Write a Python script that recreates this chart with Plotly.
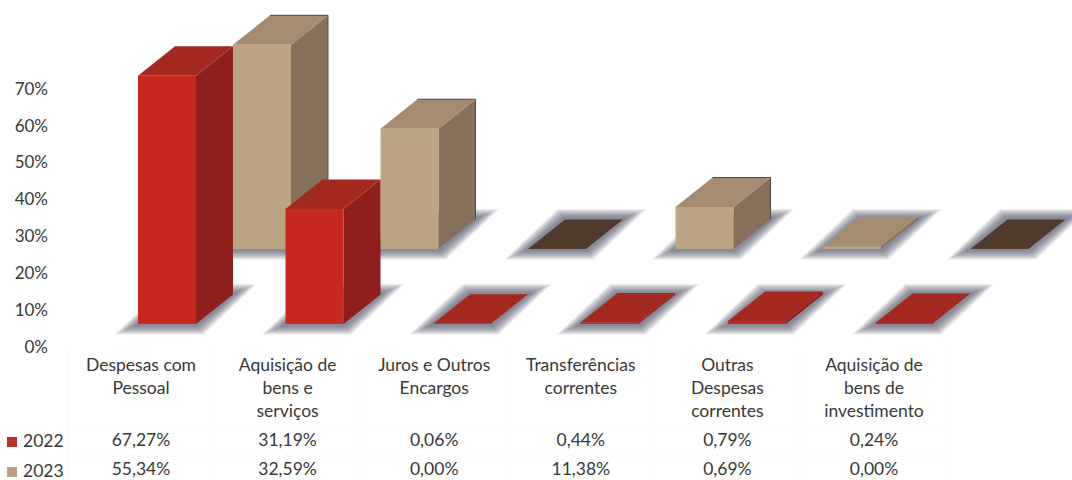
import plotly.graph_objects as go

categories = ["Despesas com<br>Pessoal", "Aquisição de<br>bens e<br>serviços", "Juros e Outros<br>Encargos",
              "Transferências<br>correntes", "Outras<br>Despesas<br>correntes", "Aquisição de<br>bens de<br>investimento"]
years = ["2022", "2023"]
values_2022 = [67.27, 31.19, 0.06, 0.44, 0.79, 0.24]
values_2023 = [55.34, 32.59, 0.00, 11.38, 0.69, 0.00]
labels_2022 = ["67,27%", "31,19%", "0,06%", "0,44%", "0,79%", "0,24%"]
labels_2023 = ["55,34%", "32,59%", "0,00%", "11,38%", "0,69%", "0,00%"]
y_ticks = [0, 10, 20, 30, 40, 50, 60, 70]

# axis calibration (pixels per unit)
PX_X, PX_Y = 147.5, 3.69
X0_PX, Y0_PX = 167.5, 347.0
MARGIN_L = 49
ux = lambda px: (px - X0_PX) / PX_X
uy = lambda px: (Y0_PX - px) / PX_Y
dxu = lambda px: px / PX_X
dyu = lambda px: px / PX_Y
paper_x = lambda px: (px - MARGIN_L) / (1072 - MARGIN_L)

BAR_W = dxu(58)
DEPTH_X, DEPTH_Y = dxu(37), dyu(29.5)
FLOOR = dyu(23)
TEXT = "#383838"
FONT = "Lato, Carlito, Open Sans, sans-serif"

rows = [
    dict(vals=values_2023, shift_x=dxu(95), shift_y=dyu(75), front="#bca585", side="#85715b",
         top="#a38c72", zero="#4f3b2e", edge="#57463a", key="#b8a27f"),
    dict(vals=values_2022, shift_x=0.0, shift_y=0.0, front="#c4281e", side="#8e1f1c",
         top="#a42a21", zero="#a42a21", edge=None, key="#b9322d"),
]

fig = go.Figure()


def poly(xs, ys, color):
    fig.add_trace(go.Scatter(x=xs + xs[:1], y=ys + ys[:1], mode="lines", fill="toself", fillcolor=color,
                             line=dict(width=0), hoverinfo="skip", showlegend=False))


for r in rows:
    base = FLOOR + r["shift_y"]
    # soft shadows
    for i in range(len(categories)):
        x0 = i - 0.2 + r["shift_x"]
        x1 = x0 + BAR_W
        for e in [12.5, 11.5, 10.5, 9.5, 8.5, 7.5, 6.5, 5.5, 4.5, 3.5, 2.5]:
            ex, ey = dxu(e), dyu(e * 0.85)
            poly([x0 - 1.9 * ex, x1 + 0.6 * ex, x1 + DEPTH_X + 1.9 * ex, x0 + DEPTH_X - 0.6 * ex],
                 [base - ey, base - ey, base + DEPTH_Y + ey, base + DEPTH_Y + ey],
                 "rgba(80,76,100,0.09)")
    # bars
    for i, v in enumerate(r["vals"]):
        x0 = i - 0.2 + r["shift_x"]
        x1 = x0 + BAR_W
        t = base + v
        poly([x1, x1 + DEPTH_X, x1 + DEPTH_X, x1], [base, base + DEPTH_Y, t + DEPTH_Y, t], r["side"])
        poly([x0, x1, x1 + DEPTH_X, x0 + DEPTH_X], [t, t, t + DEPTH_Y, t + DEPTH_Y],
             r["zero"] if v == 0 else r["top"])
        poly([x0, x1, x1, x0], [base, base, t, t], r["front"])
        if r["edge"] and v > 5:
            fig.add_trace(go.Scatter(x=[x0 + DEPTH_X, x1 + DEPTH_X, x1 + DEPTH_X],
                                     y=[t + DEPTH_Y, t + DEPTH_Y, base + DEPTH_Y], mode="lines",
                                     line=dict(color=r["edge"], width=1), hoverinfo="skip", showlegend=False))

# table text
col_u = [ux(141 + 146.6 * i) for i in range(len(categories))]
line_px = [367, 390, 413]
tx, ty, tt = [], [], []
for c, label in zip(col_u, categories):
    for k, part in enumerate(label.split("<br>")):
        tx.append(c); ty.append(uy(line_px[k])); tt.append(part)
for lab, py in ((labels_2022, 441.5), (labels_2023, 471)):
    for c, s in zip(col_u, lab):
        tx.append(c); ty.append(uy(py)); tt.append(s)
fig.add_trace(go.Scatter(x=tx, y=ty, text=tt, mode="text", textposition="middle center",
                         textfont=dict(family=FONT, size=17.5, color=TEXT), cliponaxis=False,
                         hoverinfo="skip", showlegend=False))

# faint table rules and row keys
shapes = []
for px in [68, 214, 360, 506, 653, 800, 947]:
    shapes.append(dict(type="line", xref="x", yref="y", x0=ux(px), x1=ux(px), y0=uy(348), y1=uy(480),
                       line=dict(color="#f9f9f9", width=1), layer="below"))
for py in [427, 456]:
    shapes.append(dict(type="line", xref="x", yref="y", x0=ux(68), x1=ux(947), y0=uy(py), y1=uy(py),
                       line=dict(color="#fafafa", width=1), layer="below"))

annotations = []
for yr, py, col in ((years[0], 442, rows[1]["key"]), (years[1], 472, rows[0]["key"])):
    shapes.append(dict(type="rect", xref="paper", yref="y", x0=paper_x(7), x1=paper_x(17),
                       y0=uy(py + 5), y1=uy(py - 5), fillcolor=col, line=dict(width=0)))
    annotations.append(dict(xref="paper", yref="y", x=paper_x(21), y=uy(py - 2), text=yr, showarrow=False,
                            xanchor="left", yanchor="middle", align="left",
                            font=dict(family=FONT, size=17.5, color=TEXT)))

fig.update_layout(
    width=1072, height=480, margin=dict(l=MARGIN_L, r=0, t=0, b=0),
    paper_bgcolor="#ffffff", plot_bgcolor="#ffffff", showlegend=False, shapes=shapes, annotations=annotations,
    xaxis=dict(visible=False, range=[ux(MARGIN_L), ux(1072)], fixedrange=True),
    yaxis=dict(range=[uy(480), uy(0)], tickvals=y_ticks, ticktext=[f"{v}%" for v in y_ticks],
               showgrid=False, zeroline=False, showline=False, ticks="", fixedrange=True,
               tickfont=dict(family=FONT, size=17, color=TEXT)),
)
fig.write_html("out.html", config={"displayModeBar": False},
               post_script="document.body.style.margin='0';document.body.style.overflow='hidden';")
